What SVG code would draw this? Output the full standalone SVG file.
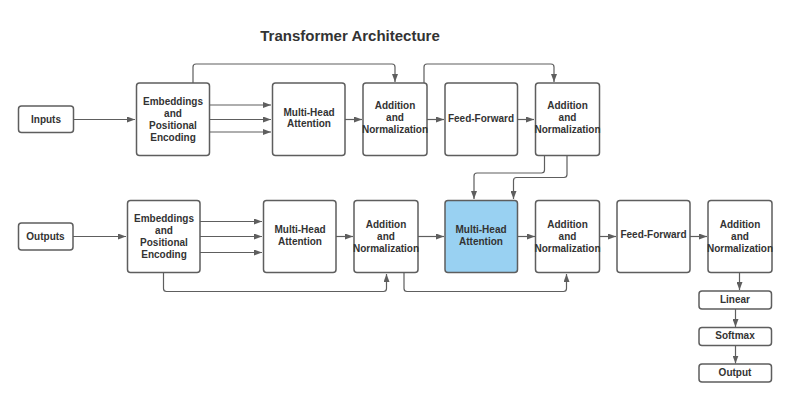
<svg xmlns="http://www.w3.org/2000/svg" width="790" height="400" viewBox="0 0 790 400">
<defs>
<marker id="ah" viewBox="0 0 8 6" refX="8" refY="3" markerWidth="8" markerHeight="6" markerUnits="userSpaceOnUse" orient="auto">
<path d="M0,0 L8,3 L0,6 Z" fill="#5e5e5e"/>
</marker>
<style>
.box{fill:#ffffff;stroke:#5e5e5e;stroke-width:1.5}
.blue{fill:#99d1f2}
.t{font-family:"Liberation Sans",Arial,sans-serif;font-weight:bold;font-size:10px;fill:#333333;text-anchor:middle}
.title{font-family:"Liberation Sans",Arial,sans-serif;font-weight:bold;font-size:15px;fill:#333333;text-anchor:middle}
.c{fill:none;stroke:#5e5e5e;stroke-width:1.2;marker-end:url(#ah)}
</style>
</defs>
<rect width="790" height="400" fill="#ffffff"/>
<text class="title" x="350" y="41">Transformer Architecture</text>

<g id="connectors">
<path class="c" d="M73,119.5 H135"/>
<path class="c" d="M209,105 H271"/>
<path class="c" d="M209,119.5 H271"/>
<path class="c" d="M209,132 H271"/>
<path class="c" d="M345,119.5 H362"/>
<path class="c" d="M427,119.5 H444"/>
<path class="c" d="M518,119.5 H534"/>
<path class="c" d="M193,83 V67 Q193,64 196,64 H392 Q395,64 395,67 V82"/>
<path class="c" d="M424,83 V67 Q424,64 427,64 H551 Q554,64 554,67 V82"/>
<path class="c" d="M544.5,156 V170 Q544.5,173 541.5,173 H477 Q474,173 474,176 V199"/>
<path class="c" d="M567,156 V174.5 Q567,177.5 564,177.5 H516.5 Q513.5,177.5 513.5,180.5 V199"/>

<path class="c" d="M73,236.5 H126"/>
<path class="c" d="M200,221.5 H262"/>
<path class="c" d="M200,236.5 H262"/>
<path class="c" d="M200,252.5 H262"/>
<path class="c" d="M336,236.5 H353"/>
<path class="c" d="M418,236.5 H444"/>
<path class="c" d="M518,236.5 H535"/>
<path class="c" d="M599,236.5 H616"/>
<path class="c" d="M690,236.5 H707"/>
<path class="c" d="M163.5,273 V288.5 Q163.5,291.5 166.5,291.5 H383.5 Q386.5,291.5 386.5,288.5 V274"/>
<path class="c" d="M404,273 V288.5 Q404,291.5 407,291.5 H563.5 Q566.5,291.5 566.5,288.5 V274"/>
<path class="c" d="M739.5,273 V290"/>
<path class="c" d="M735.5,309 V327"/>
<path class="c" d="M735.5,346 V363.5"/>
</g>

<g id="inputs"><rect class="box" x="18.5" y="106" width="55" height="26.5" rx="3"/><text class="t" x="46" y="122.5">Inputs</text></g>
<g id="enc-embed"><rect class="box" x="136.5" y="83" width="73" height="72.5" rx="3"/><text class="t" x="173" y="104.5">Embeddings</text><text class="t" x="173" y="116.5">and</text><text class="t" x="173" y="128.5">Positional</text><text class="t" x="173" y="140.5">Encoding</text></g>
<g id="enc-mha"><rect class="box" x="272.5" y="83" width="72.5" height="72.5" rx="3"/><text class="t" x="309" y="115.5">Multi-Head</text><text class="t" x="309" y="127">Attention</text></g>
<g id="enc-an1"><rect class="box" x="363" y="83" width="64" height="72.5" rx="3"/><text class="t" x="395" y="109">Addition</text><text class="t" x="395" y="121">and</text><text class="t" x="395" y="133">Normalization</text></g>
<g id="enc-ff"><rect class="box" x="445" y="83" width="72.5" height="72.5" rx="3"/><text class="t" x="481" y="121.5">Feed-Forward</text></g>
<g id="enc-an2"><rect class="box" x="535.5" y="83" width="64" height="72.5" rx="3"/><text class="t" x="567.5" y="109">Addition</text><text class="t" x="567.5" y="121">and</text><text class="t" x="567.5" y="133">Normalization</text></g>

<g id="outputs"><rect class="box" x="18.5" y="223" width="54.5" height="27" rx="3"/><text class="t" x="45.5" y="240">Outputs</text></g>
<g id="dec-embed"><rect class="box" x="127.5" y="200.5" width="72.5" height="72" rx="3"/><text class="t" x="164" y="221.5">Embeddings</text><text class="t" x="164" y="233.5">and</text><text class="t" x="164" y="245.5">Positional</text><text class="t" x="164" y="257.5">Encoding</text></g>
<g id="dec-mha"><rect class="box" x="263.5" y="200.5" width="72.5" height="72" rx="3"/><text class="t" x="300" y="232.5">Multi-Head</text><text class="t" x="300" y="244.5">Attention</text></g>
<g id="dec-an1"><rect class="box" x="354" y="200.5" width="64" height="72" rx="3"/><text class="t" x="386" y="227.5">Addition</text><text class="t" x="386" y="239.5">and</text><text class="t" x="386" y="251.5">Normalization</text></g>
<g id="dec-mha2"><rect class="box blue" x="445" y="200.5" width="72.5" height="72" rx="3"/><text class="t" x="481" y="232.5">Multi-Head</text><text class="t" x="481" y="244.5">Attention</text></g>
<g id="dec-an2"><rect class="box" x="535.5" y="200.5" width="64" height="72" rx="3"/><text class="t" x="567.5" y="227.5">Addition</text><text class="t" x="567.5" y="239.5">and</text><text class="t" x="567.5" y="251.5">Normalization</text></g>
<g id="dec-ff"><rect class="box" x="617" y="200.5" width="73" height="72" rx="3"/><text class="t" x="653.5" y="238">Feed-Forward</text></g>
<g id="dec-an3"><rect class="box" x="708" y="200.5" width="64" height="72" rx="3"/><text class="t" x="740" y="227.5">Addition</text><text class="t" x="740" y="239.5">and</text><text class="t" x="740" y="251.5">Normalization</text></g>
<g id="linear"><rect class="box" x="699" y="291" width="72.5" height="18" rx="3"/><text class="t" x="735" y="302.5">Linear</text></g>
<g id="softmax"><rect class="box" x="699" y="327.5" width="72.5" height="18" rx="3"/><text class="t" x="735" y="339">Softmax</text></g>
<g id="output"><rect class="box" x="699" y="364" width="72.5" height="18" rx="3"/><text class="t" x="735" y="375.5">Output</text></g>
</svg>
